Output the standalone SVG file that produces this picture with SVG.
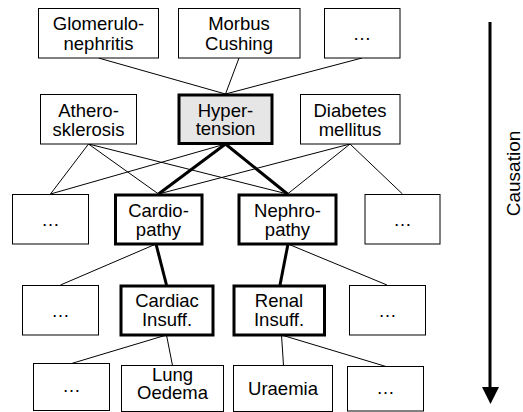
<svg xmlns="http://www.w3.org/2000/svg" width="523" height="412" viewBox="0 0 523 412">
<style>
rect{fill:#fff;stroke:#000;stroke-width:1}
rect.k{stroke-width:3}
rect.h{fill:#e6e6e6;stroke-width:3}
text{font-family:"Liberation Sans",Arial,sans-serif;font-size:18.5px;fill:#000;text-anchor:middle}
.c line{stroke:#000;stroke-width:1}
.c line.k{stroke-width:3}
</style>
<rect x="0" y="0" width="523" height="412" style="fill:#fff;stroke:none"/>
<g class="c" id="connectors">
<line x1="98.5" y1="58" x2="225.5" y2="94"/>
<line x1="239" y1="58" x2="225.5" y2="94"/>
<line x1="362" y1="58" x2="225.5" y2="94"/>
<line x1="88.5" y1="144" x2="50.5" y2="194"/>
<line x1="88.5" y1="144" x2="158.5" y2="194"/>
<line x1="88.5" y1="144" x2="287.5" y2="194"/>
<line x1="225.5" y1="144" x2="50.5" y2="194"/>
<line class="k" x1="225.5" y1="144" x2="158.5" y2="194"/>
<line class="k" x1="225.5" y1="144" x2="287.5" y2="194"/>
<line x1="350" y1="144" x2="158.5" y2="194"/>
<line x1="350" y1="144" x2="287.5" y2="194"/>
<line x1="350" y1="144" x2="402.5" y2="194"/>
<line x1="156" y1="244" x2="60.5" y2="285"/>
<line class="k" x1="156" y1="244" x2="166.5" y2="285"/>
<line class="k" x1="288" y1="244" x2="280" y2="285"/>
<line x1="288" y1="244" x2="387" y2="285"/>
<line x1="166.5" y1="335" x2="71.5" y2="363.5"/>
<line x1="166.5" y1="335" x2="172.5" y2="365.5"/>
<line x1="281.5" y1="335" x2="283.5" y2="365.5"/>
<line x1="281.5" y1="335" x2="386" y2="366.5"/>
</g>
<g id="glomerulonephritis"><rect x="38.5" y="8.5" width="120" height="49.5"/><text x="98.5" y="30">Glomerulo-</text><text x="98.5" y="50">nephritis</text></g>
<g id="morbus-cushing"><rect x="178.5" y="8.5" width="121.5" height="49.5"/><text x="239" y="30">Morbus</text><text x="239" y="50">Cushing</text></g>
<g id="top-more"><rect x="324.5" y="8.5" width="75.5" height="49.5"/><text x="362" y="40">…</text></g>
<g id="atherosklerosis"><rect x="40.5" y="94.5" width="96" height="49.5"/><text x="88.5" y="116.5">Athero-</text><text x="88.5" y="135.5">sklerosis</text></g>
<g id="hypertension"><rect class="h" x="179" y="95" width="93" height="48.5"/><text x="225.5" y="116.5">Hyper-</text><text x="225.5" y="135">tension</text></g>
<g id="diabetes-mellitus"><rect x="300.5" y="94.5" width="99.5" height="49.5"/><text x="350" y="116.5">Diabetes</text><text x="350" y="135.5">mellitus</text></g>
<g id="row3-left"><rect x="12.5" y="194.5" width="76" height="49.5"/><text x="50.5" y="226">…</text></g>
<g id="cardiopathy"><rect class="k" x="115.5" y="195" width="86.5" height="49"/><text x="158.5" y="216.5">Cardio-</text><text x="158.5" y="235.5">pathy</text></g>
<g id="nephropathy"><rect class="k" x="239" y="195" width="97" height="49"/><text x="287.5" y="216.5">Nephro-</text><text x="287.5" y="235.5">pathy</text></g>
<g id="row3-right"><rect x="365" y="194.5" width="75" height="49.5"/><text x="402.5" y="226">…</text></g>
<g id="row4-left"><rect x="22.5" y="285.5" width="76" height="49.5"/><text x="60.5" y="317">…</text></g>
<g id="cardiac-insuff"><rect class="k" x="121" y="286" width="92" height="49"/><text x="167" y="306.5">Cardiac</text><text x="167" y="325.5">Insuff.</text></g>
<g id="renal-insuff"><rect class="k" x="234" y="286" width="90.5" height="49"/><text x="279" y="306.5">Renal</text><text x="279" y="325.5">Insuff.</text></g>
<g id="row4-right"><rect x="349.5" y="285.5" width="76" height="49.5"/><text x="387.5" y="317">…</text></g>
<g id="row5-left"><rect x="33.5" y="363.5" width="76" height="47"/><text x="71.5" y="392">…</text></g>
<g id="lung-oedema"><rect x="121.5" y="365.5" width="102" height="46"/><text x="172.5" y="380.5">Lung</text><text x="172.5" y="398.5">Oedema</text></g>
<g id="uraemia"><rect x="233.5" y="365.5" width="99" height="46"/><text x="283" y="395">Uraemia</text></g>
<g id="row5-right"><rect x="347.5" y="366.5" width="76" height="44.5"/><text x="385.5" y="394">…</text></g>
<g id="causation-arrow">
<line x1="490" y1="22" x2="490" y2="390" style="stroke:#000;stroke-width:3"/>
<polygon points="482,387 499,387 490.5,404" style="fill:#000"/>
<text x="520" y="173.5" transform="rotate(-90 520 173.5)" style="font-size:19px">Causation</text>
</g>
</svg>
